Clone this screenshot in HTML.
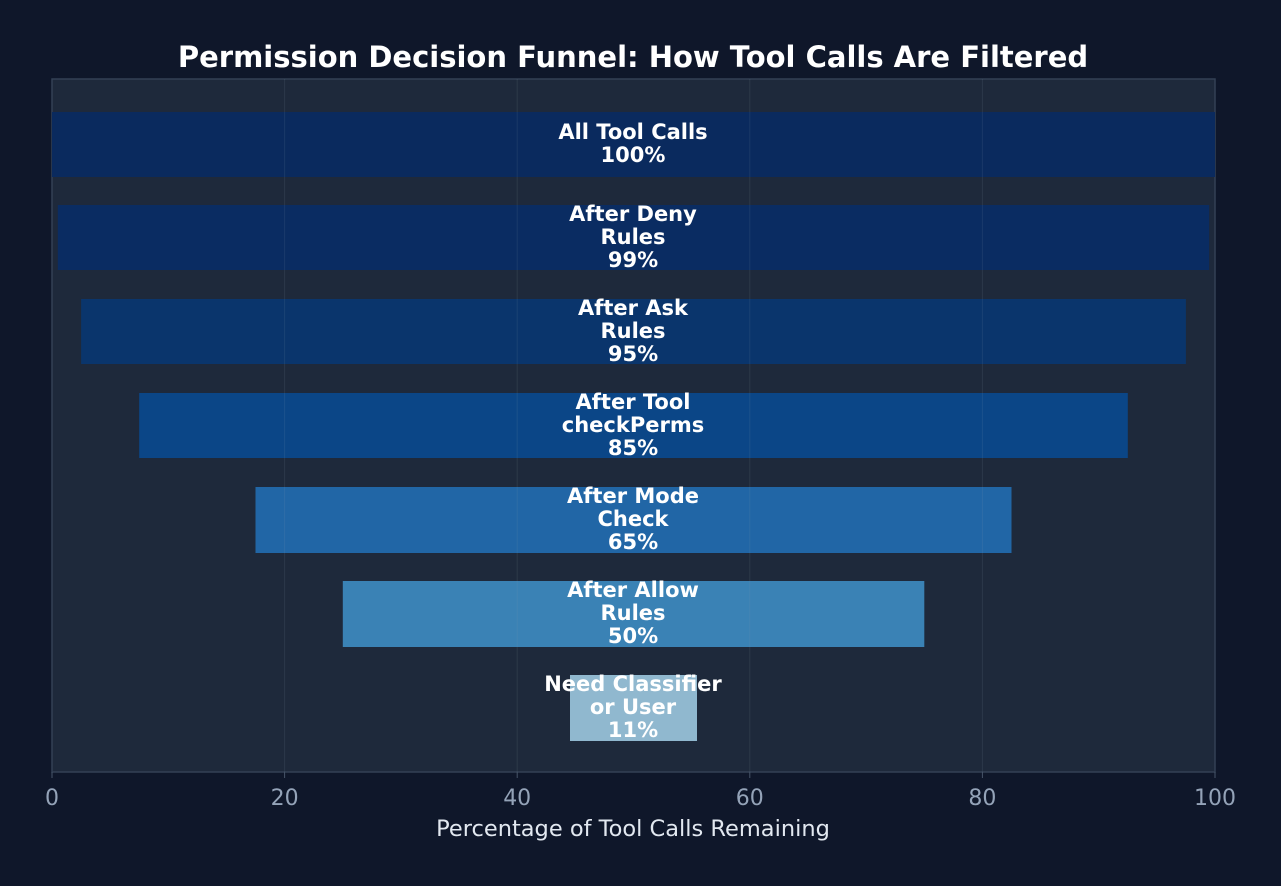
<!DOCTYPE html>
<html><head><meta charset="utf-8"><style>
html,body{margin:0;padding:0;background:#0f172a;}
svg{display:block;font-family:"DejaVu Sans","Liberation Sans",sans-serif;}
</style></head><body>
<svg width="1281" height="886" viewBox="0 0 1281 886" xmlns="http://www.w3.org/2000/svg">
<rect width="1281" height="886" fill="#0f172a"/>
<text x="633" y="67" fill="#ffffff" font-size="29" font-weight="bold" text-anchor="middle">Permission Decision Funnel: How Tool Calls Are Filtered</text>
<rect x="52" y="79" width="1163" height="693" fill="#1e293b" stroke="#334155" stroke-width="1.5"/>
<rect x="52" y="112" width="1163" height="65" fill="#0a2a5e"/>
<rect x="57.8" y="205" width="1151.4" height="65" fill="#0a2c62"/>
<rect x="81.1" y="299" width="1104.8" height="65" fill="#0a356c"/>
<rect x="139.2" y="393" width="988.6" height="65" fill="#0b4687"/>
<rect x="255.5" y="487" width="756" height="66" fill="#2166a6"/>
<rect x="342.8" y="581" width="581.5" height="66" fill="#3a82b5"/>
<rect x="570" y="675" width="127" height="66" fill="#90b8cf"/>
<g stroke="#94a3b8" stroke-opacity="0.12" stroke-width="1">
<line x1="284.6" y1="79" x2="284.6" y2="772"/>
<line x1="517.2" y1="79" x2="517.2" y2="772"/>
<line x1="749.8" y1="79" x2="749.8" y2="772"/>
<line x1="982.4" y1="79" x2="982.4" y2="772"/>
</g>
<g fill="#ffffff" font-size="21" font-weight="bold" text-anchor="middle">
<text x="633" y="139">All Tool Calls</text><text x="633" y="162">100%</text>
<text x="633" y="221">After Deny</text><text x="633" y="244">Rules</text><text x="633" y="267">99%</text>
<text x="633" y="315">After Ask</text><text x="633" y="338">Rules</text><text x="633" y="361">95%</text>
<text x="633" y="409">After Tool</text><text x="633" y="432">checkPerms</text><text x="633" y="455">85%</text>
<text x="633" y="503">After Mode</text><text x="633" y="526">Check</text><text x="633" y="549">65%</text>
<text x="633" y="597">After Allow</text><text x="633" y="620">Rules</text><text x="633" y="643">50%</text>
<text x="633" y="691">Need Classifier</text><text x="633" y="714">or User</text><text x="633" y="737">11%</text>
</g>
<g stroke="#475569" stroke-width="1">
<line x1="52" y1="772" x2="52" y2="778"/><line x1="284.6" y1="772" x2="284.6" y2="778"/>
<line x1="517.2" y1="772" x2="517.2" y2="778"/><line x1="749.8" y1="772" x2="749.8" y2="778"/>
<line x1="982.4" y1="772" x2="982.4" y2="778"/><line x1="1215" y1="772" x2="1215" y2="778"/>
</g>
<g fill="#94a3b8" font-size="22" text-anchor="middle">
<text x="52" y="805">0</text><text x="284.6" y="805">20</text><text x="517.2" y="805">40</text>
<text x="749.8" y="805">60</text><text x="982.4" y="805">80</text><text x="1215" y="805">100</text>
</g>
<text x="633" y="836" fill="#e2e8f0" font-size="22.5" text-anchor="middle">Percentage of Tool Calls Remaining</text>
</svg>
</body></html>
